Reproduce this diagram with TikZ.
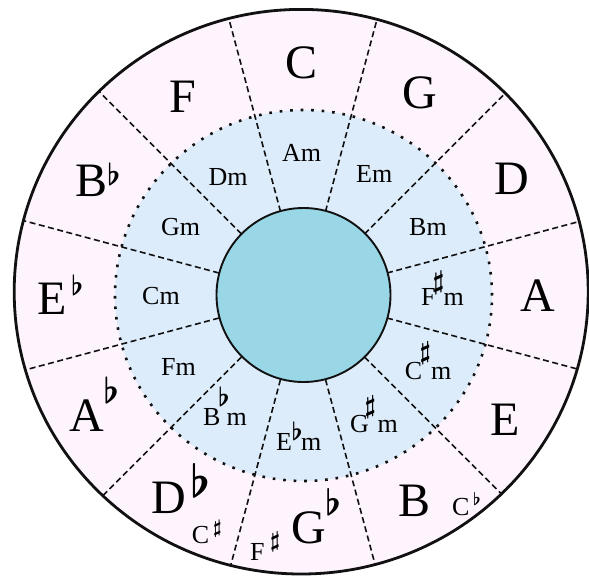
\documentclass[tikz,border=0pt]{standalone}
\usepackage{fontspec}
\setmainfont{Liberation Serif}
\usetikzlibrary{calc}
\definecolor{CF_PINK}{HTML}{FDF4FD}
\definecolor{CF_BLUE}{HTML}{DDECFB}
\definecolor{CF_HUB}{HTML}{99D7E7}
\definecolor{CF_INK}{HTML}{111111}
% accidentals: height, lift of the bottom above the baseline
\newcommand{\keyflat}[2]{\raisebox{#2}{\resizebox*{!}{#1}{\raisebox{\depth}{\boldmath$\flat$}}}}
\newcommand{\keysharp}[2]{\raisebox{#2}{\resizebox*{!}{#1}{\raisebox{\depth}{\boldmath$\sharp$}}}}
\tikzset{
  majorkey/.style={font=\fontsize{48}{50}\selectfont, inner sep=0pt,
    anchor=base west, text=black},
  minorkey/.style={font=\fontsize{26}{28}\selectfont, inner sep=0pt,
    anchor=base west, text=black},
  enharm/.style={font=\fontsize{26}{28}\selectfont, inner sep=0pt,
    anchor=base west, text=black},
  divider/.style={draw=CF_INK, line width=1.6pt, dash pattern=on 6pt off 3.5pt},
  minorring/.style={draw=CF_INK, line width=2.6pt, dash pattern=on 2.6pt off 7.9pt},
  hub/.style={draw=CF_INK, fill=CF_HUB, line width=1.9pt},
  outerring/.style={draw=CF_INK, line width=2.8pt},
}
\begin{document}
\begin{tikzpicture}[x=1pt, y=-1pt]
  \useasboundingbox (0,0) rectangle (589,579);

  % rings
  \fill[CF_PINK] (301.2,291.7) ellipse [x radius=287pt, y radius=282.3pt];
  \fill[CF_BLUE] (303.5,295.5) ellipse [x radius=188.5pt, y radius=185.5pt];

  % dividers between the keys
  \begin{scope}
    \clip (301.2,291.7) ellipse [x radius=287pt, y radius=282.3pt];
    \foreach \a in {15,45,...,345}
      \draw[divider] ($(303,295.5)+(\a:87pt)$) -- ($(303,295.5)+(\a:330pt)$);
  \end{scope}

  \draw[minorring] (303.5,295.5) ellipse [x radius=188.5pt, y radius=185.5pt];
  \draw[hub] (303.5,295) circle [radius=87pt];
  \draw[outerring] (301.2,291.7) ellipse [x radius=287pt, y radius=282.3pt];

  % major keys
  \node[majorkey] (kC)  at (285.5,78.6) {C};
  \node[majorkey] (kG)  at (402,108)    {G};
  \node[majorkey] (kD)  at (494,194.5)  {D};
  \node[majorkey] (kA)  at (520,311)    {A};
  \node[majorkey] (kE)  at (490,435)    {E};
  \node[majorkey] (kB)  at (398,516.5)  {B};
  \node[majorkey] (kGb) at (291.7,543)  {G\kern-1.4pt\keyflat{27pt}{28pt}};
  \node[majorkey] (kDb) at (151.7,513)  {D\kern3.6pt\keyflat{34pt}{16pt}};
  \node[majorkey] (kAb) at (69.5,431)   {A\kern-1pt\keyflat{26.5pt}{27.4pt}};
  \node[majorkey] (kEb) at (37.6,314)   {E\kern4pt\keyflat{20.6pt}{18.4pt}};
  \node[majorkey] (kBb) at (75,196.4)   {B\keyflat{22.6pt}{10.8pt}};
  \node[majorkey] (kF)  at (169,112)    {F};

  % enharmonic names
  \node[enharm] (kCs) at (191.7,543) {C\kern4pt\keysharp{17pt}{6pt}};
  \node[enharm] (kFs) at (250,560)   {F\kern5.5pt\keysharp{20pt}{8pt}};
  \node[enharm] (kCb) at (452,515)   {C\kern3.7pt\keyflat{13pt}{10pt}};

  % minor keys
  \node[minorkey] (mAm)  at (282,161)   {Am};
  \node[minorkey] (mEm)  at (356,182.7) {Em};
  \node[minorkey] (mBm)  at (409,235)   {Bm};
  \node[minorkey] (mFsm) at (421,305.4)
    {F\kern-3pt\keysharp{23.5pt}{10.5pt}\kern-0.8pt m};
  \node[minorkey] (mCsm) at (404.6,379)
    {C\kern-2.5pt\keysharp{22.6pt}{15pt}m};
  \node[minorkey] (mGsm) at (350,432)
    {G\kern-4.4pt\keysharp{22.6pt}{14pt}\kern1.6pt m};
  \node[minorkey] (mEbm) at (276,450.8)
    {E\kern-0.5pt\keyflat{18.7pt}{10.5pt}\kern-1.5pt m};
  \node[minorkey] (mBbm) at (203,425)
    {B\kern-2.3pt\keyflat{19.6pt}{18.4pt}\kern-3.2pt m};
  \node[minorkey] (mFm)  at (161,375)   {Fm};
  \node[minorkey] (mCm)  at (142,304.4) {Cm};
  \node[minorkey] (mGm)  at (161,235)   {Gm};
  \node[minorkey] (mDm)  at (208.5,185.6) {Dm};

\end{tikzpicture}
\end{document}
